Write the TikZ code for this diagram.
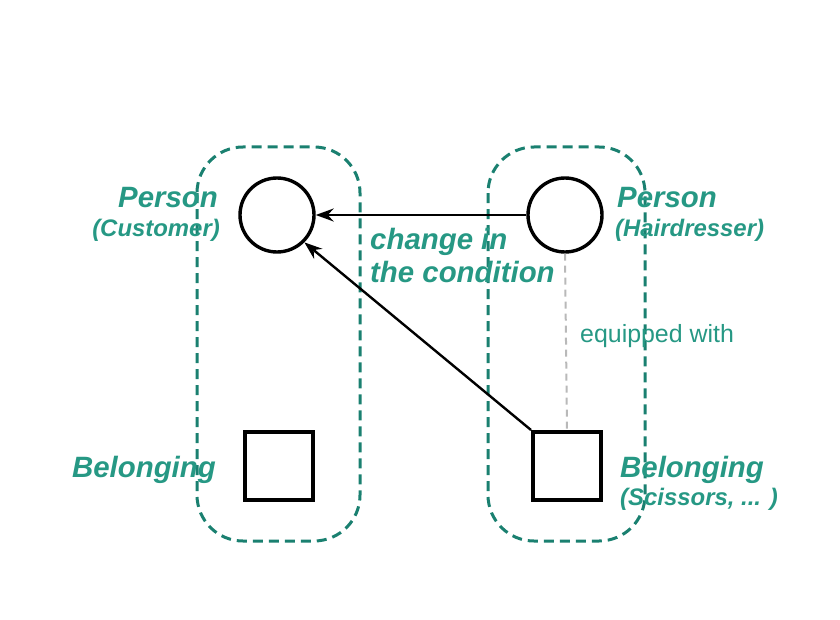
\documentclass[tikz,border=0pt]{standalone}
\usepackage{fontspec}
\setmainfont{Liberation Sans}
\usetikzlibrary{arrows.meta}

\definecolor{labteal}{RGB}{38,152,132}
\definecolor{boxteal}{RGB}{26,128,112}

\tikzset{
    person/.style={draw, circle, line width=3.4bp, minimum size=74bp, inner sep=0pt},
    belong/.style={draw, rectangle, line width=4bp, minimum size=68bp, inner sep=0pt},
    group/.style={draw=boxteal, line width=3bp, dash pattern=on 10bp off 6bp, rounded corners=46bp},
    biglab/.style={text=labteal, font=\fontsize{29.5}{31}\selectfont\bfseries\itshape, inner sep=0pt},
    smalllab/.style={text=labteal, font=\fontsize{24}{26}\selectfont\bfseries\itshape, inner sep=0pt},
    plainlab/.style={text=labteal, font=\fontsize{25}{27}\selectfont, inner sep=0pt},
    change/.style={line width=2.4bp, -{Stealth[length=18bp,width=13bp,inset=6bp]}}
}

\begin{document}
\begin{tikzpicture}[x=1bp,y=-1bp]
    \useasboundingbox (0,0) rectangle (840,620);
    % groups
    \draw[group] (197,147) rectangle (360,541);
    \draw[group] (488,147) rectangle (645,541);
    % persons and belongings
    \node[person] (cust) at (277,215) {};
    \node[person] (hair) at (565,215) {};
    \node[belong] (custB) at (279,466) {};
    \node[belong] (sciB) at (567,466) {};
    % relations
    \draw[change] (hair.west) -- (cust.east);
    \draw[change] (sciB.north west) -- (cust.south east);
    \draw[gray!55, line width=2bp, dash pattern=on 7bp off 5bp] (hair.south) -- (sciB.north);
    % labels
    \node[biglab, anchor=base east] (custL) at (218,208) {Person};
    \node[smalllab, anchor=base east] (custS) at (220,237) {(Customer)};
    \node[biglab, anchor=base west] (hairL) at (617,208) {Person};
    \node[smalllab, anchor=base west] (hairS) at (615,237) {(Hairdresser)};
    \node[biglab, anchor=base west] (chg) at (370,250) {change in};
    \node[biglab, anchor=base west] (cond) at (370,282) {the condition};
    \node[plainlab, anchor=base west] (eqp) at (580,342) {equipped with};
    \node[biglab, anchor=base east] (custBL) at (216,477) {Belonging};
    \node[biglab, anchor=base west] (sciL) at (620,477) {Belonging};
    \node[smalllab, anchor=base west] (sciS) at (620,505) {(Scissors, ... )};
\end{tikzpicture}
\end{document}
